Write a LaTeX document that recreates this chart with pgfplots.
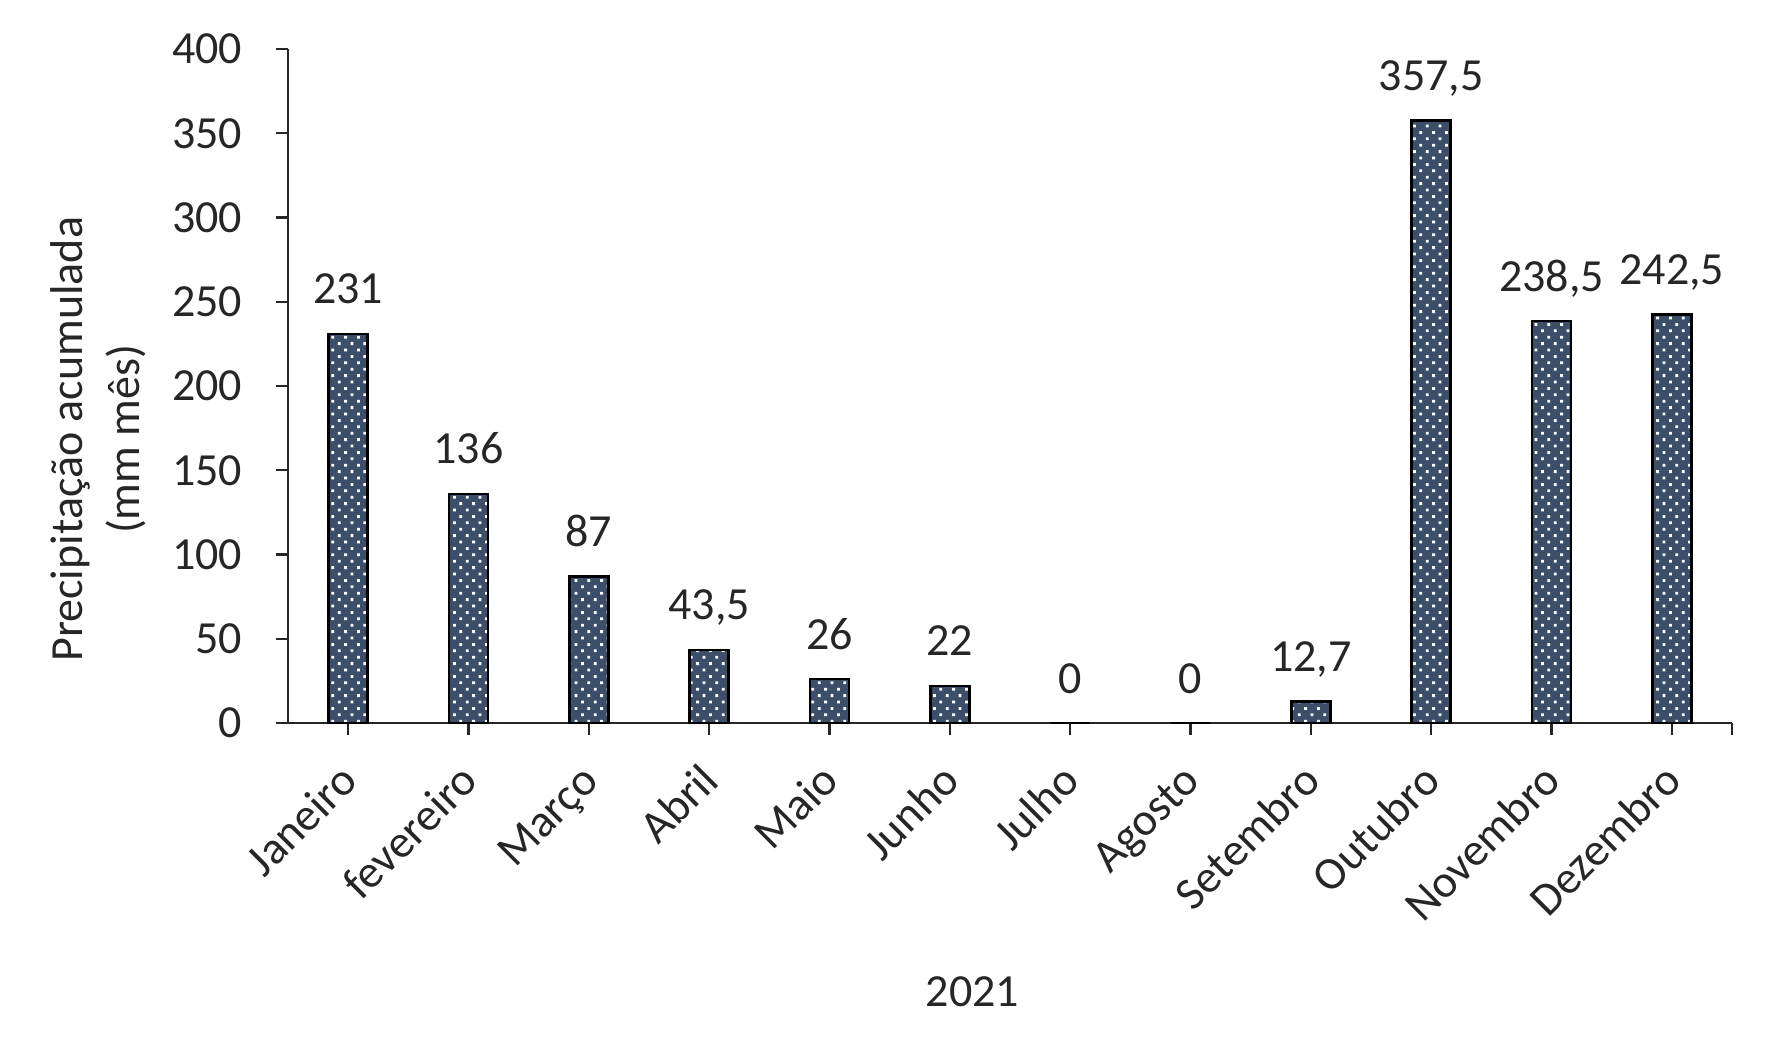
\documentclass[border=0pt]{standalone}
\usepackage{fontspec}
\setmainfont{Carlito}
\usepackage{pgfplots}
\pgfplotsset{compat=1.18}
\usetikzlibrary{patterns}
\pgfdeclarepatternformonly{sparsedots}{\pgfqpoint{-0.5pt}{-0.5pt}}{\pgfqpoint{3.7pt}{3.7pt}}{\pgfqpoint{3.2pt}{3.2pt}}{
  \pgfpathrectangle{\pgfqpoint{-0.35pt}{-0.35pt}}{\pgfqpoint{0.7pt}{0.7pt}}
  \pgfpathrectangle{\pgfqpoint{1.25pt}{1.25pt}}{\pgfqpoint{0.7pt}{0.7pt}}
  \pgfusepath{fill}}
\definecolor{barfill}{RGB}{59,79,106}
\definecolor{ink}{RGB}{38,38,38}
\begin{document}
\fontsize{11.5}{14.2}\selectfont
\begin{tikzpicture}
\useasboundingbox (-72pt,-82.75pt) rectangle (372.5pt,180.75pt);
\begin{axis}[
  scale only axis, width=361pt, height=168.5pt,
  xmin=-0.5, xmax=11.5, ymin=0, ymax=400,
  axis x line*=bottom, axis y line*=left,
  axis line style={ink, line width=0.6pt},
  tick style={ink, line width=0.6pt},
  tick align=outside, major tick length=3pt,
  ytick={0,50,...,400},
  xtick={0,...,11},
  xticklabels={Janeiro, fevereiro, Março, Abril, Maio, Junho, Julho, Agosto, Setembro, Outubro, Novembro, Dezembro},
  extra x ticks={11.5}, extra x tick labels={},
  extra x tick style={tick style={ink, line width=0.6pt}},
  font=\fontsize{11.5}{14.2}\selectfont,
  every tick label/.append style={text=ink},
  yticklabel style={anchor=east, inner sep=0pt, xshift=-8.25pt},
  xticklabel style={xshift=3pt, yshift=-12pt, rotate=45, anchor=base east, inner sep=0pt},
  /pgf/number format/.cd, use comma, fixed, precision=1, 1000 sep={}, assume math mode=true,
  /pgfplots/.cd,
  ybar, bar width=9.75pt,
  nodes near coords,
  nodes near coords style={text=ink, anchor=base, yshift=7.5pt, font=\fontsize{11.5}{14.2}\selectfont},
  ylabel={Precipitação acumulada\\(mm mês)},
  ylabel style={at={(rel axis cs:0,0.421)}, anchor=center, yshift=47.4pt, align=center, text=ink},
  xlabel={2021},
  xlabel style={at={(rel axis cs:0.474,0)}, anchor=center, yshift=-67.3pt, text=ink},
]
\addplot[fill=barfill, draw=black, line width=0.6pt, postaction={pattern=sparsedots, pattern color=white}]
coordinates {(0,231) (1,136) (2,87) (3,43.5) (4,26) (5,22) (6,0) (7,0) (8,12.7) (9,357.5) (10,238.5) (11,242.5)};
\end{axis}
\end{tikzpicture}
\end{document}
